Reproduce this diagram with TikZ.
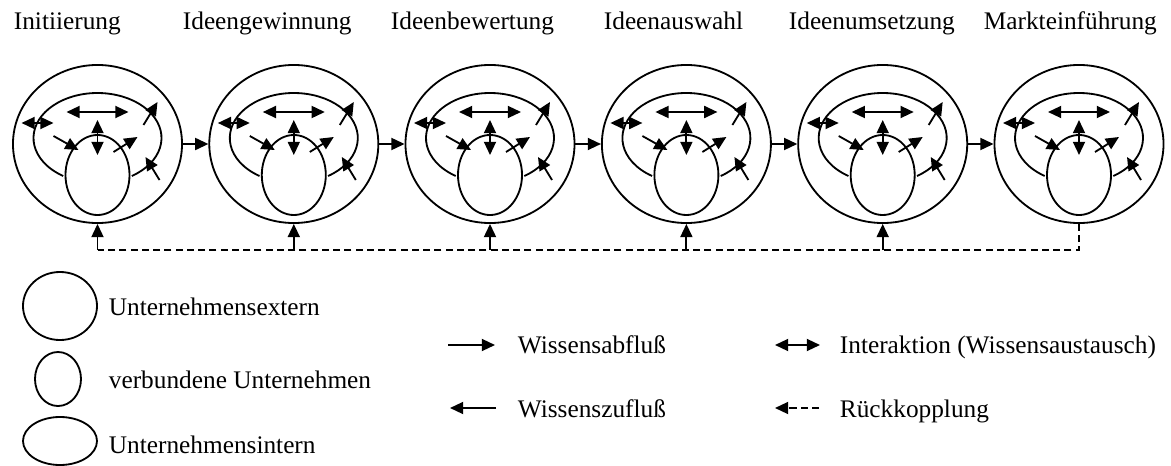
\documentclass[tikz,border=0pt]{standalone}
\usepackage{fontspec}
\setmainfont{Liberation Serif}
\usetikzlibrary{arrows.meta,shapes.geometric}

\begin{document}
\begin{tikzpicture}[
        x=0.025cm, y=0.025cm,
        line width=1.3pt,
        font=\fontsize{18}{21}\selectfont,
        flow/.style={-{Triangle[length=3.3mm,width=3mm]}},
        both/.style={{Triangle[length=3.3mm,width=3mm]}-{Triangle[length=3.3mm,width=3mm]}},
        feedback/.style={dash pattern=on 5pt off 3pt},
        extern/.style={draw,ellipse,inner sep=0,minimum width=4.225cm,minimum height=3.95cm},
        verbund/.style={draw,ellipse,inner sep=0,minimum width=1.6cm,minimum height=2cm},
        lbl/.style={anchor=base west,inner sep=0}
    ]
    \useasboundingbox (0,0) rectangle (1171,-466);

    % Phasen
    \node[lbl] (p1) at (13,-30) {Initiierung};
    \node[lbl] (p2) at (182,-30) {Ideengewinnung};
    \node[lbl] (p3) at (390,-30) {Ideenbewertung};
    \node[lbl] (p4) at (603,-30) {Ideenauswahl};
    \node[lbl] (p5) at (788,-30) {Ideenumsetzung};
    \node[lbl] (p6) at (983,-30) {Markteinführung};

    % Kreise
    \foreach \i/\cx in {1/97.5, 2/293.8, 3/490, 4/686.4, 5/882.7, 6/1079} {
        \node[extern] (ext\i) at (\cx,-144) {};
        \node[verbund] (verb\i) at (\cx,-175) {};
        \draw (\cx,-138) ++(-57.6:64 and 45)
            arc[start angle=-57.6, end angle=237.6, x radius=64, y radius=45];
        \begin{scope}[shift={(\cx,-144)}]
            \draw[both] (-31,32) -- (31,32);
            \draw[both] (-76,21) -- (-44,21);
            \draw[both] (0,24) -- (0,-11);
            \draw[flow] (-44,8) -- (-19,-6);
            \draw[flow] (16,-8) -- (40,7);
            \draw[flow] (46,19) -- (60,42);
            \draw[flow] (62,-36) -- (48,-13);
        \end{scope}
    }
    \foreach \a/\b in {1/2, 2/3, 3/4, 4/5, 5/6}
        \draw[flow] (ext\a) -- (ext\b);

    % Rueckkopplung
    \coordinate (fb1) at (97.5,-250);
    \coordinate (fb6) at (1079,-250);
    \draw[feedback] (ext6.south) -- (fb6) -- (fb1);
    \foreach \i in {1,...,5}
        \draw[flow] (ext\i.south |- fb1) -- (ext\i.south);

    % Legende
    \node[draw,ellipse,inner sep=0,minimum width=1.85cm,minimum height=1.7cm] (lgext) at (60,-306) {};
    \node[lbl] (tgext) at (108,-315) {Unternehmensextern};
    \node[draw,ellipse,inner sep=0,minimum width=1.15cm,minimum height=1.35cm] (lgverb) at (58,-379) {};
    \node[lbl] (tgverb) at (108,-388) {verbundene Unternehmen};
    \node[draw,ellipse,inner sep=0,minimum width=1.85cm,minimum height=1.2cm] (lgint) at (60,-441) {};
    \node[lbl] (tgint) at (108,-453) {Unternehmensintern};

    \coordinate (ab1) at (448,-345);
    \coordinate (ab2) at (495,-345);
    \draw[flow] (ab1) -- (ab2);
    \node[lbl] (tab) at (517,-353) {Wissensabfluß};
    \coordinate (zu1) at (496,-408);
    \coordinate (zu2) at (450,-408);
    \draw[flow] (zu1) -- (zu2);
    \node[lbl] (tzu) at (517,-417) {Wissenszufluß};
    \coordinate (ia1) at (775,-345);
    \coordinate (ia2) at (820,-345);
    \draw[both] (ia1) -- (ia2);
    \node[lbl] (tia) at (839,-353) {Interaktion (Wissensaustausch)};
    \coordinate (rk1) at (819,-408);
    \coordinate (rk2) at (775,-408);
    \draw[flow,feedback] (rk1) -- (rk2);
    \node[lbl] (trk) at (839,-417) {Rückkopplung};
\end{tikzpicture}
\end{document}
